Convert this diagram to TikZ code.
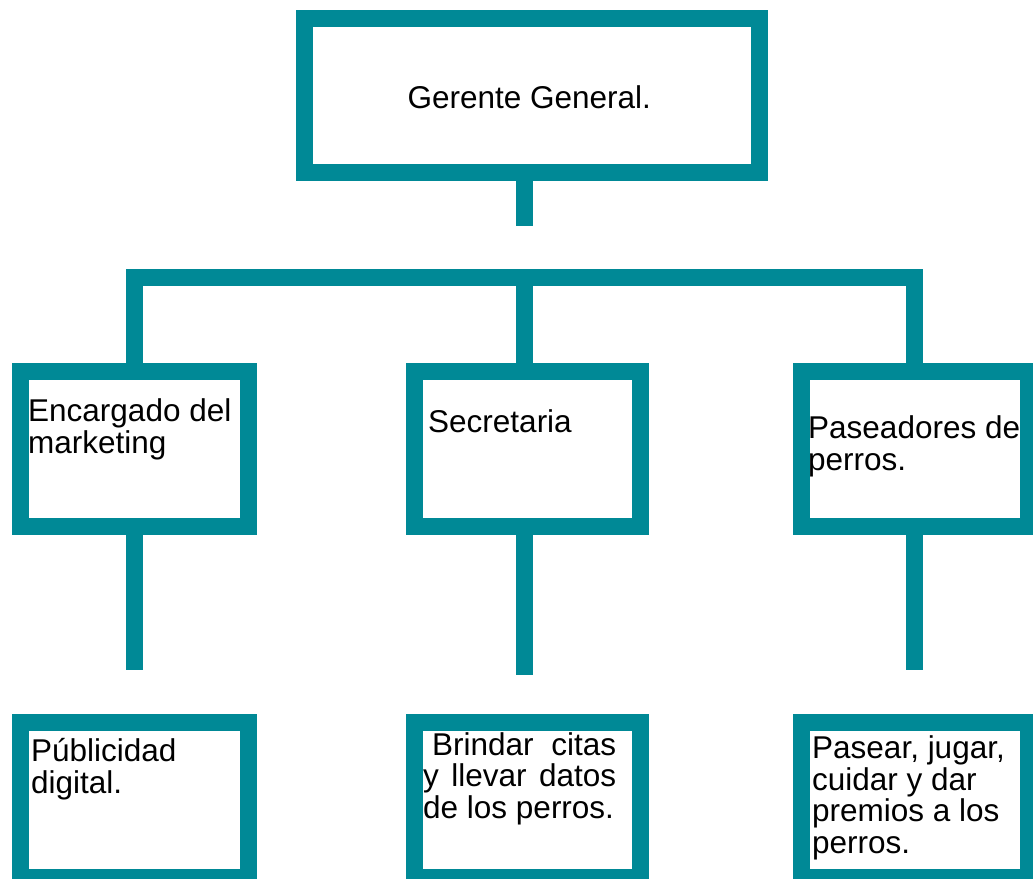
\documentclass[tikz,border=0pt]{standalone}
\usepackage{fontspec}
\setmainfont{Liberation Sans}
\definecolor{tealline}{RGB}{0,137,150}
\begin{document}
\begin{tikzpicture}[x=1pt,y=-1pt,
  box/.style={draw=tealline, line width=17pt, fill=white, inner sep=0pt,
    minimum width=227.5pt, minimum height=154.5pt},
  conn/.style={draw=tealline, line width=17pt, line cap=butt, line join=miter},
  lbl/.style={anchor=base west, inner sep=0pt, align=left,
    font=\fontsize{31.5}{31.5}\selectfont}]
\useasboundingbox (0,0) rectangle (1033,878);
\clip (0,0) rectangle (1033,878);
% boxes
\node[box, minimum width=454.5pt] (top) at (531.75,95.25) {};
\node[box] (m1) at (134.25,449) {};
\node[box, minimum width=226pt] (m2) at (527.5,448.75) {};
\node[box] (m3) at (914.75,449) {};
\node[box, minimum height=155pt] (b1) at (134.25,800) {};
\node[box, minimum width=226pt, minimum height=155pt] (b2) at (527.5,800) {};
\node[box, minimum height=155pt] (b3) at (914.75,800) {};
% connector points
\coordinate (s) at (524,226);
\coordinate (d1) at (134.5,277);
\coordinate (d2) at (524.5,277);
\coordinate (d3) at (914.5,277);
\coordinate (e1) at (134.5,670);
\coordinate (e2) at (524.5,675);
\coordinate (e3) at (914.5,670);
% connectors
\draw[conn] (top.south -| s) -- (s);
\draw[conn] (m1.north -| d1) -- (d1) -- (d3) -- (m3.north -| d3);
\draw[conn] (d2) -- (m2.north -| d2);
\draw[conn] (m1.south -| e1) -- (e1);
\draw[conn] (m2.south -| e2) -- (e2);
\draw[conn] (m3.south -| e3) -- (e3);
% labels (base anchor = baseline of the last line)
\node[lbl, anchor=base] (t0) at (529.3,108) {Gerente General.};
\node[lbl] (t1) at (28,453) {Encargado del\\marketing};
\node[lbl] (t2) at (428,432) {Secretaria};
\node[lbl] (t3) at (808,470) {Paseadores de\\perros.};
\node[lbl] (t4) at (31,793) {Públicidad\\digital.};
\node[lbl] (t5) at (423,818) {\hspace*{9pt}\makebox[184pt][s]{Brindar citas}\\\makebox[193pt][s]{y llevar datos}\\de los perros.};
\node[lbl] (t6) at (812,853) {Pasear, jugar,\\cuidar y dar\\premios a los\\perros.};
\end{tikzpicture}
\end{document}
